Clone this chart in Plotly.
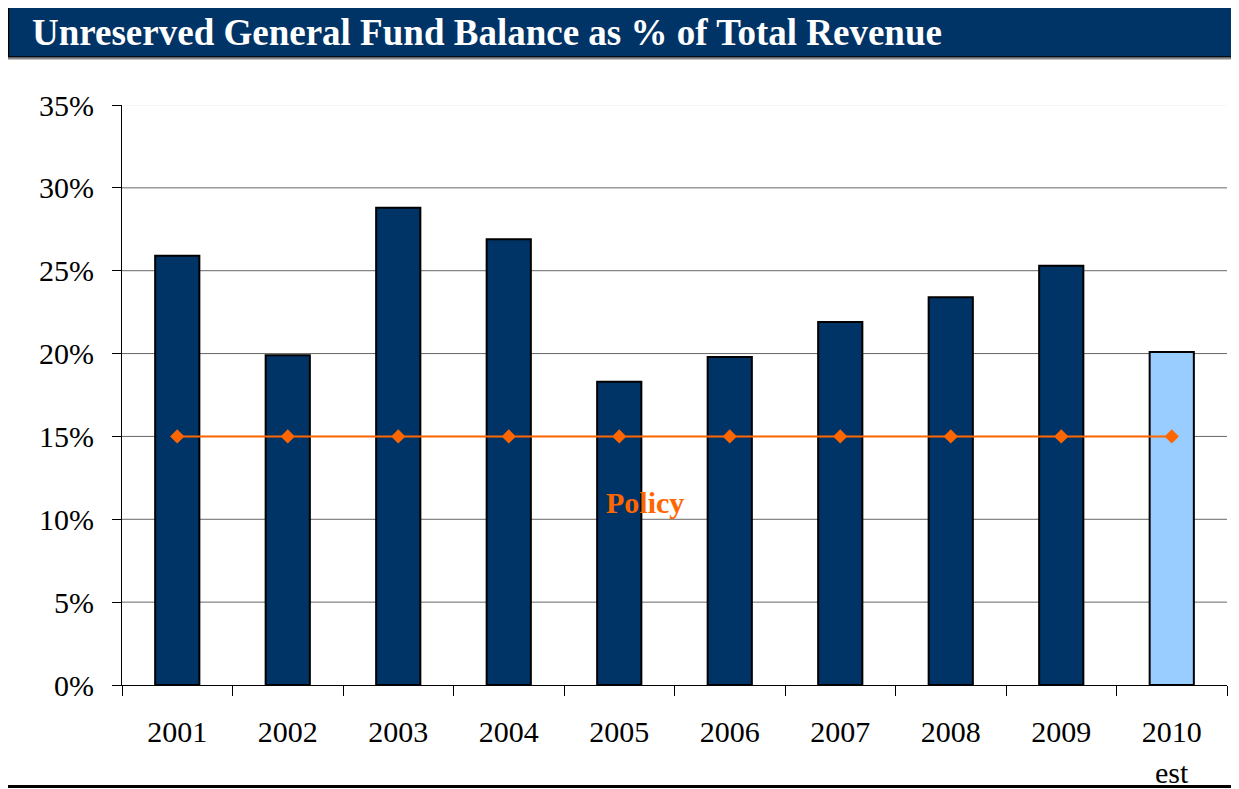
import plotly.graph_objects as go

years = ["2001", "2002", "2003", "2004", "2005", "2006", "2007", "2008", "2009", "2010"]
balance_pct = [25.9, 19.9, 28.8, 26.9, 18.3, 19.8, 21.9, 23.4, 25.3, 20.1]
policy_pct = [15, 15, 15, 15, 15, 15, 15, 15, 15, 15]
y_ticks = [0, 5, 10, 15, 20, 25, 30, 35]
y_tick_labels = [f"{v}%" for v in y_ticks]

# page body has an 8px margin; work in reference pixel coords and offset
OFF = 8
W, H = 1239 - OFF, 789 - OFF
pw = (1227 - 122)
ph = (685 - 105)
L = 122 - OFF
R = W - L - pw
T = 105 - OFF
B = H - T - ph

def px_x(p):
    return (p - OFF - L) / pw

def px_y(p):
    return (H - B - (p - OFF)) / ph

bar_colors = ["#003366"] * 9 + ["#99CCFF"]
FONT = "Liberation Serif, Times New Roman, serif"

fig = go.Figure()
fig.add_trace(go.Bar(
    x=years, y=balance_pct, width=0.4,
    marker=dict(color=bar_colors, line=dict(color="#000000", width=2)),
    showlegend=False, hoverinfo="x+y",
))
fig.add_trace(go.Scatter(
    x=years, y=policy_pct, mode="lines+markers",
    line=dict(color="#FF6600", width=2),
    marker=dict(symbol="diamond", size=11, color="#FF6600"),
    showlegend=False,
))

shapes = []
for v in y_ticks[1:]:
    shapes.append(dict(type="line", xref="paper", yref="y", x0=0, x1=1, y0=v, y1=v,
                       line=dict(color="#eeeeee" if v == 35 else "#666666", width=1),
                       layer="below"))
# header band
shapes.append(dict(type="rect", xref="paper", yref="paper",
                   x0=px_x(8.5), x1=px_x(1245), y0=px_y(57), y1=px_y(4),
                   fillcolor="#003366", line=dict(color="#000000", width=1.5), layer="above"))
shapes.append(dict(type="line", xref="paper", yref="paper",
                   x0=px_x(8), x1=px_x(1245), y0=px_y(58.5), y1=px_y(58.5),
                   line=dict(color="#888888", width=2)))
# bottom rule
shapes.append(dict(type="line", xref="paper", yref="paper",
                   x0=px_x(0), x1=px_x(1245), y0=px_y(786.5), y1=px_y(786.5),
                   line=dict(color="#000000", width=3)))

n = len(years)
annotations = [
    dict(text="<b>Unreserved General Fund Balance as % of Total Revenue</b>",
         xref="paper", yref="paper", x=px_x(30), y=px_y(33), xanchor="left", yanchor="middle",
         showarrow=False, font=dict(family=FONT, size=37, color="#FFFFFF")),
    dict(text="<b>Policy</b>", xref="paper", yref="paper", x=px_x(645), y=px_y(502),
         xanchor="center", yanchor="middle", showarrow=False,
         font=dict(family=FONT, size=30, color="#FF6600")),
    dict(text="est", xref="paper", yref="paper", x=(n - 0.5) / n, y=px_y(772),
         xanchor="center", yanchor="middle", showarrow=False,
         font=dict(family=FONT, size=30, color="#000000")),
]

fig.update_layout(
    width=W, height=H,
    margin=dict(l=L, r=R, t=T, b=B, autoexpand=False),
    paper_bgcolor="white", plot_bgcolor="white",
    shapes=shapes, annotations=annotations,
    xaxis=dict(type="category", tickson="boundaries", ticks="outside", ticklen=10,
               tickcolor="#000000", tickwidth=1,
               showline=True, linecolor="#000000", linewidth=1, showgrid=False,
               tickfont=dict(family=FONT, size=30, color="#000000"),
               ticklabelstandoff=20, range=[-0.5, 9.5]),
    yaxis=dict(range=[0, 35], tickvals=y_ticks, ticktext=y_tick_labels,
               ticks="outside", ticklen=9, tickcolor="#000000", tickwidth=1,
               showline=True, linecolor="#000000", linewidth=1, showgrid=False,
               zeroline=False,
               tickfont=dict(family=FONT, size=30, color="#000000"),
               ticklabelstandoff=12),
    hovermode="closest",
)

fig.write_html("out.html")
